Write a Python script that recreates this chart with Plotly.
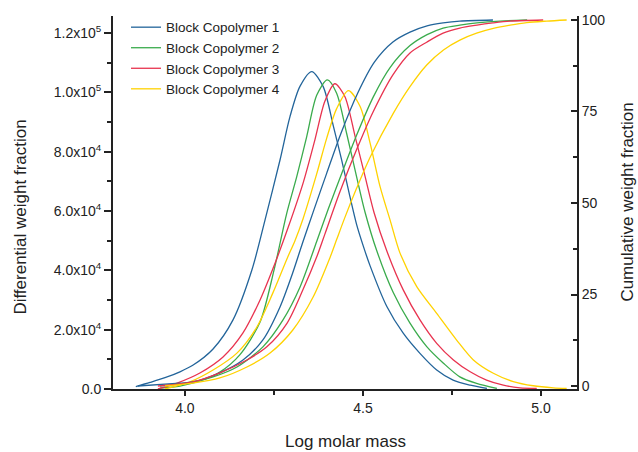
import plotly.graph_objects as go

# differential weight fraction (units of 1e4)
x_diff1 = [3.862, 3.902, 3.944, 3.986, 4.022, 4.079, 4.135, 4.188, 4.225, 4.267, 4.295, 4.323, 4.356,
           4.388, 4.417, 4.440, 4.463, 4.482, 4.500, 4.520, 4.567, 4.613, 4.660, 4.707, 4.753, 4.801, 4.848]
y_diff1 = [0.08, 0.22, 0.38, 0.58, 0.80, 1.35, 2.33, 4.01, 5.70, 7.72, 9.18, 10.20, 10.70,
           10.20, 8.85, 7.72, 6.50, 5.55, 4.85, 4.15, 2.78, 1.88, 1.20, 0.64, 0.30, 0.13, 0.02]

x_diff2 = [3.930, 3.986, 4.042, 4.098, 4.154, 4.211, 4.250, 4.286, 4.314, 4.342, 4.370, 4.400,
           4.426, 4.454, 4.482, 4.506, 4.539, 4.585, 4.632, 4.679, 4.726, 4.772, 4.819, 4.876]
y_diff2 = [0.03, 0.10, 0.27, 0.57, 1.15, 2.26, 4.00, 5.93, 7.16, 8.51, 9.90, 10.42,
           9.97, 8.62, 7.16, 5.95, 4.65, 3.25, 2.22, 1.43, 0.87, 0.41, 0.19, 0.02]

x_diff3 = [3.924, 3.978, 4.042, 4.107, 4.163, 4.211, 4.247, 4.290, 4.332, 4.365, 4.393, 4.421, 4.449,
           4.478, 4.506, 4.531, 4.567, 4.613, 4.660, 4.707, 4.754, 4.801, 4.847, 4.894, 4.941, 4.988]
y_diff3 = [0.00, 0.20, 0.54, 1.08, 1.89, 3.00, 4.05, 5.45, 6.95, 8.40, 9.70, 10.29, 9.86,
           8.51, 7.16, 5.95, 4.65, 3.34, 2.33, 1.54, 0.98, 0.58, 0.30, 0.13, 0.04, 0.02]

x_diff4 = [3.944, 4.014, 4.079, 4.146, 4.202, 4.247, 4.287, 4.309, 4.332, 4.370, 4.398, 4.426, 4.459, 4.492,
           4.520, 4.548, 4.576, 4.604, 4.651, 4.707, 4.763, 4.810, 4.866, 4.922, 4.978, 5.035, 5.072]
y_diff4 = [0.00, 0.24, 0.64, 1.21, 2.09, 3.24, 4.40, 5.00, 5.75, 7.25, 8.45, 9.45, 10.06, 9.52,
           8.29, 6.82, 5.70, 4.58, 3.45, 2.55, 1.65, 0.98, 0.53, 0.25, 0.11, 0.04, 0.02]

# cumulative weight fraction (%)
x_cum1 = [3.868, 3.986, 4.022, 4.098, 4.163, 4.219, 4.267, 4.303, 4.330, 4.360, 4.398, 4.438, 4.485,
          4.532, 4.584, 4.632, 4.680, 4.725, 4.772, 4.865]
y_cum1 = [0, 0.8, 1.1, 3.6, 7.1, 12.6, 21.6, 31.0, 39.0, 47.5, 58.1, 69.0, 80.0,
          88.5, 94.0, 96.7, 98.4, 99.2, 99.7, 100]

x_cum2 = [3.930, 4.006, 4.079, 4.146, 4.219, 4.275, 4.323, 4.370, 4.403, 4.440, 4.482, 4.529, 4.576,
          4.632, 4.680, 4.725, 4.772, 4.820, 4.885, 4.961]
y_cum2 = [0, 0.8, 2.5, 5.2, 10.7, 18.0, 27.0, 39.5, 48.5, 58.0, 68.5, 79.0, 87.0,
          93.0, 96.0, 97.8, 98.6, 99.2, 99.7, 100]

x_cum3 = [3.924, 4.022, 4.098, 4.174, 4.230, 4.287, 4.331, 4.371, 4.393, 4.435, 4.483, 4.528, 4.584,
          4.632, 4.680, 4.725, 4.772, 4.820, 4.865, 4.913, 5.006]
y_cum3 = [0, 1.1, 3.6, 7.1, 10.7, 17.2, 26.2, 35.5, 41.5, 53.0, 64.8, 74.8, 85.0,
          91.0, 94.0, 96.4, 97.8, 98.6, 99.2, 99.7, 100]

x_cum4 = [3.944, 4.022, 4.098, 4.174, 4.239, 4.303, 4.360, 4.407, 4.426, 4.449, 4.482, 4.520, 4.585,
          4.632, 4.679, 4.726, 4.772, 4.819, 4.866, 4.913, 4.960, 5.016, 5.072]
y_cum4 = [0, 0.8, 2.2, 5.2, 9.0, 15.3, 24.3, 35.0, 40.0, 46.0, 54.0, 62.5, 74.5,
          81.8, 87.7, 91.8, 94.5, 96.4, 97.7, 98.6, 99.3, 99.7, 100]

names = ["Block Copolymer 1", "Block Copolymer 2", "Block Copolymer 3", "Block Copolymer 4"]
colors = ["#22649a", "#3aab4c", "#e8334f", "#ffd200"]

diffs = [(x_diff1, y_diff1), (x_diff2, y_diff2), (x_diff3, y_diff3), (x_diff4, y_diff4)]
cums = [(x_cum1, y_cum1), (x_cum2, y_cum2), (x_cum3, y_cum3), (x_cum4, y_cum4)]

left_ticks = [0, 2e4, 4e4, 6e4, 8e4, 1e5, 1.2e5]
left_text = ["0.0", "2.0x10<sup>4</sup>", "4.0x10<sup>4</sup>", "6.0x10<sup>4</sup>",
             "8.0x10<sup>4</sup>", "1.0x10<sup>5</sup>", "1.2x10<sup>5</sup>"]

tick_font = dict(family="Liberation Sans, Arial, sans-serif", size=14, color="#222")
title_font = dict(family="Liberation Sans, Arial, sans-serif", size=17, color="#222")
ink = "#222"

fig = go.Figure()

for (xs, ys), nm, c in zip(diffs, names, colors):
    fig.add_trace(go.Scatter(x=xs, y=[v * 1e4 for v in ys], name=nm, mode="lines",
                             line=dict(color=c, width=1.3, shape="spline", smoothing=0.8)))

for (xs, ys), nm, c in zip(cums, names, colors):
    fig.add_trace(go.Scatter(x=xs, y=ys, name=nm, mode="lines", yaxis="y2", showlegend=False,
                             line=dict(color=c, width=1.3, shape="spline", smoothing=0.8)))

fig.update_layout(
    width=638, height=452,
    margin=dict(l=113, r=61, t=16, b=63),
    paper_bgcolor="white", plot_bgcolor="white",
    showlegend=True,
    legend=dict(x=0.028, y=1.011, xanchor="left", yanchor="top", bgcolor="rgba(0,0,0,0)",
                font=dict(family="Liberation Sans, Arial, sans-serif", size=13.5, color=ink),
                tracegroupgap=0),
    xaxis=dict(range=[3.798, 5.101], tickvals=[4.0, 4.5, 5.0], ticktext=["4.0", "4.5", "5.0"],
               ticks="outside", ticklen=5, tickwidth=1.5, tickcolor=ink,
               minor=dict(tickvals=[4.25, 4.75], ticks="outside", ticklen=4, tickwidth=1.5, tickcolor=ink),
               showline=True, linecolor=ink, linewidth=1.8, showgrid=False, zeroline=False,
               tickfont=tick_font),
    yaxis=dict(range=[0, 125730], tickvals=left_ticks, ticktext=left_text,
               ticks="outside", ticklen=7, tickwidth=1.5, tickcolor=ink,
               minor=dict(dtick=1e4, tick0=0, ticks="outside", ticklen=4, tickwidth=1.5, tickcolor=ink),
               showline=True, linecolor=ink, linewidth=1.8, showgrid=False, zeroline=False,
               tickfont=tick_font),
    yaxis2=dict(range=[-0.82, 101.09], overlaying="y", side="right",
                tickvals=[0, 25, 50, 75, 100], ticks="inside", ticklen=6, tickwidth=1.5, tickcolor=ink,
                minor=dict(dtick=12.5, tick0=0, ticks="inside", ticklen=4, tickwidth=1.5, tickcolor=ink),
                showline=True, linecolor=ink, linewidth=1.8, showgrid=False, zeroline=False,
                tickfont=tick_font),
    annotations=[
        dict(text="Differential weight fraction", xref="paper", yref="paper", x=-0.2, y=0.46,
             textangle=-90, showarrow=False, font=title_font, xanchor="center", yanchor="middle"),
        dict(text="Cumulative weight fraction", xref="paper", yref="paper", x=1.108, y=0.5,
             textangle=-90, showarrow=False, font=title_font, xanchor="center", yanchor="middle"),
        dict(text="Log molar mass", xref="paper", yref="paper", x=0.5, y=-0.14,
             showarrow=False, font=title_font, xanchor="center", yanchor="middle"),
    ],
)

fig.write_html("out.html", config={"displayModeBar": False},
               post_script="document.body.style.margin='0';")
